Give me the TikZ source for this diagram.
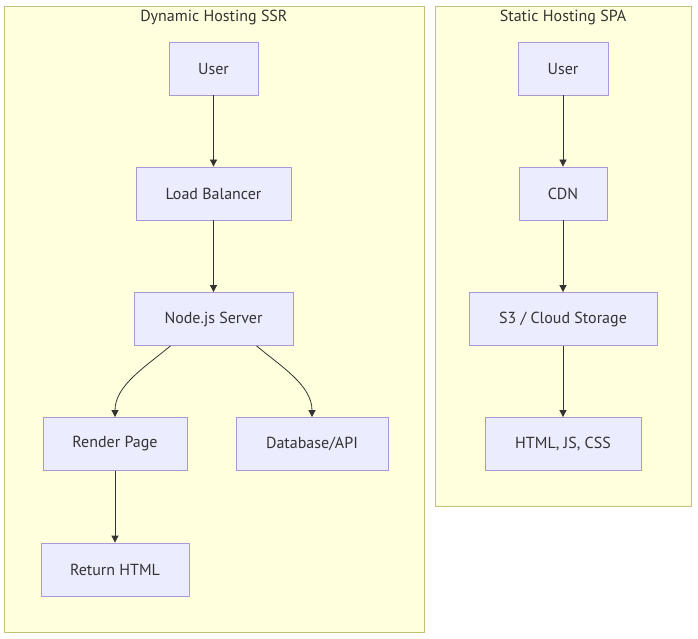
\documentclass[tikz,border=0pt]{standalone}
\usepackage{fontspec}
\setmainfont{PT Sans}
\usetikzlibrary{arrows.meta}
\usetikzlibrary{positioning}
\definecolor{clusterfill}{HTML}{FFFFDE}
\definecolor{clusterline}{HTML}{C2C27A}
\definecolor{boxfill}{HTML}{ECECFF}
\definecolor{boxline}{HTML}{A899DB}
\definecolor{ink}{HTML}{333333}
\begin{document}
\begin{tikzpicture}[x=1pt,y=1pt,->,>={Triangle[length=7pt,width=7pt]},line width=0.8pt,draw=ink,
	cluster/.style={rectangle,fill=clusterfill,draw=clusterline,line width=0.8pt,inner sep=0pt},
	title/.style={text=ink,font=\fontsize{16}{19}\selectfont},
	box/.style={rectangle,fill=boxfill,draw=boxline,line width=0.8pt,text=ink,font=\fontsize{16}{19}\selectfont,minimum height=53pt,inner sep=0pt}]
		
		\useasboundingbox (0,0) rectangle (698,-639);
		
		\node[cluster, minimum width=420pt, minimum height=626pt] at (214,-319) (ssr) {};
		\node[cluster, minimum width=256pt, minimum height=500pt] at (563,-256) (spa) {};
		\node[title] at (214,-18) (ssrtitle) {Dynamic Hosting SSR};
		\node[title] at (563,-18) (spatitle) {Static Hosting SPA};
		
		\node[box, minimum width=89pt] at (213.5,-68.5) (user1) {User};
		\node[box, minimum width=155pt] at (213.5,-193.5) (lb) {Load Balancer};
		\node[box, minimum width=159pt] at (213.5,-319) (node) {Node.js Server};
		\node[box, minimum width=144pt] at (115,-444) (render) {Render Page};
		\node[box, minimum width=152pt] at (312,-444) (db) {Database/API};
		\node[box, minimum width=148pt] at (115,-569.5) (ret) {Return HTML};
		
		\node[box, minimum width=90pt] at (563,-68.5) (user2) {User};
		\node[box, minimum width=88pt] at (563,-193.5) (cdn) {CDN};
		\node[box, minimum width=188pt] at (563,-319) (s3) {S3 / Cloud Storage};
		\node[box, minimum width=156pt] at (563,-444) (files) {HTML, JS, CSS};
		
		\path
		(user1) edge (lb)
		(lb) edge (node)
		(node.212) edge[out=220,in=90,looseness=0.9] (render)
		(node.328) edge[out=-40,in=90,looseness=0.9] (db)
		(render) edge (ret)
		(user2) edge (cdn)
		(cdn) edge (s3)
		(s3) edge (files)
		;
		
\end{tikzpicture}
\end{document}
